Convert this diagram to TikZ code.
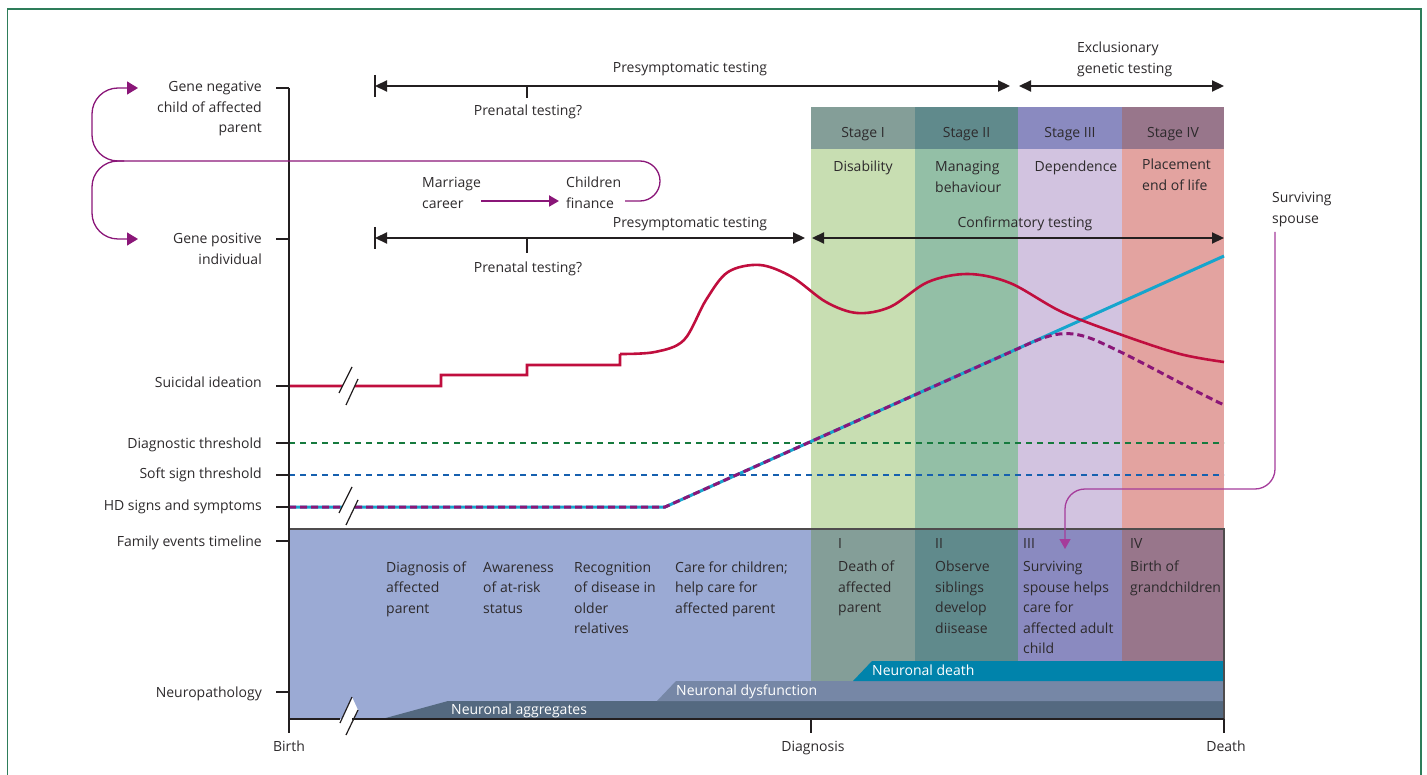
\documentclass[tikz,border=0pt]{standalone}
\usepackage{fontspec}
\setmainfont{Open Sans}
\usetikzlibrary{arrows.meta,calc}
\definecolor{FrameClr}{RGB}{46,125,90}
\definecolor{TextClr}{RGB}{45,42,44}
\definecolor{AxisClr}{RGB}{35,31,32}
\definecolor{LinkClr}{RGB}{138,22,120}
\definecolor{SpouseClr}{RGB}{165,60,155}
\definecolor{SuicideClr}{RGB}{192,14,62}
\definecolor{SignClr}{RGB}{22,165,205}
\definecolor{DiagClr}{RGB}{22,122,62}
\definecolor{SoftClr}{RGB}{22,96,175}
\definecolor{EarlyClr}{RGB}{155,170,212}
\definecolor{HeadOneClr}{RGB}{132,158,152}
\definecolor{HeadTwoClr}{RGB}{96,138,140}
\definecolor{HeadThreeClr}{RGB}{138,138,192}
\definecolor{HeadFourClr}{RGB}{152,118,139}
\definecolor{BodyOneClr}{RGB}{200,222,178}
\definecolor{BodyTwoClr}{RGB}{147,191,166}
\definecolor{BodyThreeClr}{RGB}{210,195,224}
\definecolor{BodyFourClr}{RGB}{227,163,160}
\definecolor{AggClr}{RGB}{84,105,128}
\definecolor{DysClr}{RGB}{118,135,166}
\definecolor{DeathClr}{RGB}{0,131,171}

\begin{document}
\begin{tikzpicture}[x=1pt,y=-1pt,
  every node/.style={inner sep=0pt,text=TextClr,font=\fontsize{14}{20.5}\selectfont},
  lbl/.style={anchor=base east,align=right},
  txt/.style={anchor=base west,align=left},
  ctxt/.style={anchor=base,align=center},
  wtxt/.style={anchor=base west,text=white},
  axisline/.style={line width=1.8pt,color=AxisClr},
  span/.style={line width=2.2pt,color=AxisClr,
    {Triangle[length=12pt,width=11pt]}-{Triangle[length=12pt,width=11pt]}},
  spanbar/.style={line width=2.2pt,color=AxisClr},
  link/.style={line width=1.3pt,color=LinkClr},
  linktip/.style={-{Triangle[length=11pt,width=13pt]}},
  brk/.style={line width=1.2pt,color=AxisClr},
  thresh/.style={line width=2.6pt,dash pattern=on 6pt off 5pt}]

\useasboundingbox (0,0) rectangle (1427,775);

\fill[HeadOneClr]   (811,107) rectangle (915,149);
\fill[HeadTwoClr]   (915,107) rectangle (1018,149);
\fill[HeadThreeClr] (1018,107) rectangle (1122,149);
\fill[HeadFourClr]  (1122,107) rectangle (1224,149);
\fill[BodyOneClr]   (811,149) rectangle (915,529);
\fill[BodyTwoClr]   (915,149) rectangle (1018,529);
\fill[BodyThreeClr] (1018,149) rectangle (1122,529);
\fill[BodyFourClr]  (1122,149) rectangle (1224,529);

\fill[EarlyClr]     (289,529) rectangle (811,719);
\fill[HeadOneClr]   (811,529) rectangle (915,719);
\fill[HeadTwoClr]   (915,529) rectangle (1018,719);
\fill[HeadThreeClr] (1018,529) rectangle (1122,719);
\fill[HeadFourClr]  (1122,529) rectangle (1224,719);

\fill[AggClr]   (382,719) -- (448,701) -- (1224,701) -- (1224,719) -- cycle;
\fill[DysClr]   (657,701) -- (676,681) -- (1224,681) -- (1224,701) -- cycle;
\fill[DeathClr] (853,681) -- (872,661) -- (1224,661) -- (1224,681) -- cycle;

\draw[line width=1.5pt,color=AxisClr!80] (289,529) -- (1224,529) -- (1224,719);

\draw[thresh,DiagClr] (289,443) -- (1224,443);
\draw[thresh,SoftClr] (289,475) -- (1224,475);

\draw[line width=3pt,SignClr] (289,507) -- (665,507) -- (1224,256);
\draw[line width=3pt,LinkClr,dash pattern=on 7pt off 4pt]
  (289,507) -- (665,507) -- (1025,345.5)
  .. controls (1052,333) and (1068,329) .. (1095,340)
  .. controls (1140,360) and (1180,384) .. (1224,405);

\draw[line width=2.6pt,SuicideClr] (289,386) -- (441,386) -- (441,375) -- (527,375)
  -- (527,365) -- (620,365) -- (620,354)
  plot[smooth,tension=0.55] coordinates {(620,354) (655,352) (684,340) (706,300)
  (728,272) (760,265) (792,277) (826,302) (857,313) (890,307) (928,282)
  (968,274) (1010,283) (1062,312) (1122,335) (1180,354) (1224,362)};

\fill[white] (339,393) -- (352,367) -- (358,379) -- (346,405) -- cycle;
\fill[white] (339,513) -- (352,487) -- (358,500) -- (346,525) -- cycle;
\fill[white] (340,723) -- (352,697) -- (358,710) -- (346,735) -- cycle;

\draw[axisline] (289,88) -- (289,719) -- (340,719);
\draw[axisline] (352,719) -- (1224,719);
\foreach \y in {88,239,386,443,475,507,541,692}
  \draw[axisline] (276,\y) -- (289,\y);
\foreach \x in {289,811,1224}
  \draw[axisline] (\x,719) -- (\x,733);

\draw[brk] (339,393) -- (352,367);
\draw[brk] (346,405) -- (358,379);
\draw[brk] (339,513) -- (352,487);
\draw[brk] (346,525) -- (358,500);
\draw[brk] (340,723) -- (352,697);
\draw[brk] (346,735) -- (358,710);

\draw[line width=1.2pt,FrameClr] (7.5,780) -- (7.5,9) -- (1421,9) -- (1421,780);

\coordinate (presymAL) at (375,86);
\coordinate (presymAR) at (1010,86);
\coordinate (exclL) at (1019,86);
\coordinate (exclR) at (1224,86);
\coordinate (presymBL) at (375,238);
\coordinate (presymBR) at (805,238);
\coordinate (confL) at (812,238);
\coordinate (confR) at (1224,238);

\draw[span] (presymAL) -- (presymAR);
\draw[span] (exclL) -- (exclR);
\draw[span] (presymBL) -- (presymBR);
\draw[span] (confL) -- (confR);
\draw[spanbar] ($(presymAL)+(0,-11)$) -- ($(presymAL)+(0,11)$);
\draw[spanbar] ($(presymBL)+(0,-11)$) -- ($(presymBL)+(0,11)$);
\draw[spanbar] (527,86) -- (527,98);
\draw[spanbar] (527,238) -- (527,253);

\coordinate (hub) at (124,161);
\coordinate (negtip) at (138,88);
\coordinate (postip) at (138,239);
\coordinate (loopend) at (625,201);
\coordinate (mstart) at (481,201);
\coordinate (mend) at (559,201);

\draw[link,linktip,rounded corners=26pt] (hub) -- (92,161) -- (92,88) -- (negtip);
\draw[link,linktip,rounded corners=26pt] (hub) -- (92,161) -- (92,239) -- (postip);
\draw[link,rounded corners=20pt] (hub) -- (660,161) -- (660,201) -- (loopend);
\draw[link,line width=2pt,-{Triangle[length=10pt,width=11pt]}] (mstart) -- (mend);

\node[lbl] (gneg) at (262,133) {Gene negative\\child of affected\\parent};
\node[lbl] (gpos) at (262,264.5) {Gene positive\\individual};
\node[lbl] (suic) at (262,388) {Suicidal ideation};
\node[lbl] (diag) at (262,448) {Diagnostic threshold};
\node[lbl] (soft) at (262,478) {Soft sign threshold};
\node[lbl] (hdss) at (262,510) {HD signs and symptoms};
\node[lbl] (fam) at (262,546) {Family events timeline};
\node[lbl] (neuro) at (262,697) {Neuropathology};

\node[ctxt] (birth) at (289,751) {Birth};
\node[ctxt] (dxlbl) at (813,751) {Diagnosis};
\node[ctxt] (death) at (1226,751) {Death};

\node[ctxt] (presymA) at (690,73) {Presymptomatic testing};
\node[ctxt] (prenA) at (528,116) {Prenatal testing?};
\node[ctxt] (presymB) at (690,228) {Presymptomatic testing};
\node[ctxt] (prenB) at (528,273) {Prenatal testing?};
\node[txt] (excl) at (1077,73.5) {Exclusionary\\genetic testing};
\node[ctxt] (conf) at (1025,228) {Confirmatory testing};

\node[txt] (marriage) at (422,208.5) {Marriage\\career};
\node[txt] (children) at (566,208.5) {Children\\finance};

\node[ctxt] (sI) at (863,138) {Stage I};
\node[ctxt] (sII) at (966.5,138) {Stage II};
\node[ctxt] (sIII) at (1070,138) {Stage III};
\node[ctxt] (sIV) at (1173,138) {Stage IV};
\node[ctxt] (disab) at (863,172) {Disability};
\node[txt] (manag) at (935,192.5) {Managing\\behaviour};
\node[ctxt] (depend) at (1076,172) {Dependence};
\node[txt] (place) at (1142,190.5) {Placement\\end of life};

\node[txt] (spouse) at (1272,223.5) {Surviving\\spouse};
\coordinate (spousetip) at (1065,549);
\draw[line width=1.3pt,SpouseClr,rounded corners=20pt,-{Triangle[length=10pt,width=11pt]}]
  (1275,232) -- (1275,489) -- (1065,489) -- (spousetip);

\node[txt] (evA) at (386,613) {Diagnosis of\\affected\\parent};
\node[txt] (evB) at (483,613) {Awareness\\of at-risk\\status};
\node[txt] (evC) at (574,633.5) {Recognition\\of disease in\\older\\relatives};
\node[txt] (evD) at (675,613) {Care for children;\\help care for\\affected parent};
\node[txt] (evE) at (838,612.5) {I\\[3pt]Death of\\affected\\parent};
\node[txt] (evF) at (935,633) {II\\[3pt]Observe\\siblings\\develop\\diisease};
\node[txt] (evG) at (1023,653.5) {III\\[3pt]Surviving\\spouse helps\\care for\\affected adult\\child};
\node[txt] (evH) at (1130,592) {IV\\[3pt]Birth of\\grandchildren};

\node[wtxt] (agg) at (451,714) {Neuronal aggregates};
\node[wtxt] (dys) at (676,695) {Neuronal dysfunction};
\node[wtxt] (ndeath) at (872,675) {Neuronal death};

\end{tikzpicture}
\end{document}
